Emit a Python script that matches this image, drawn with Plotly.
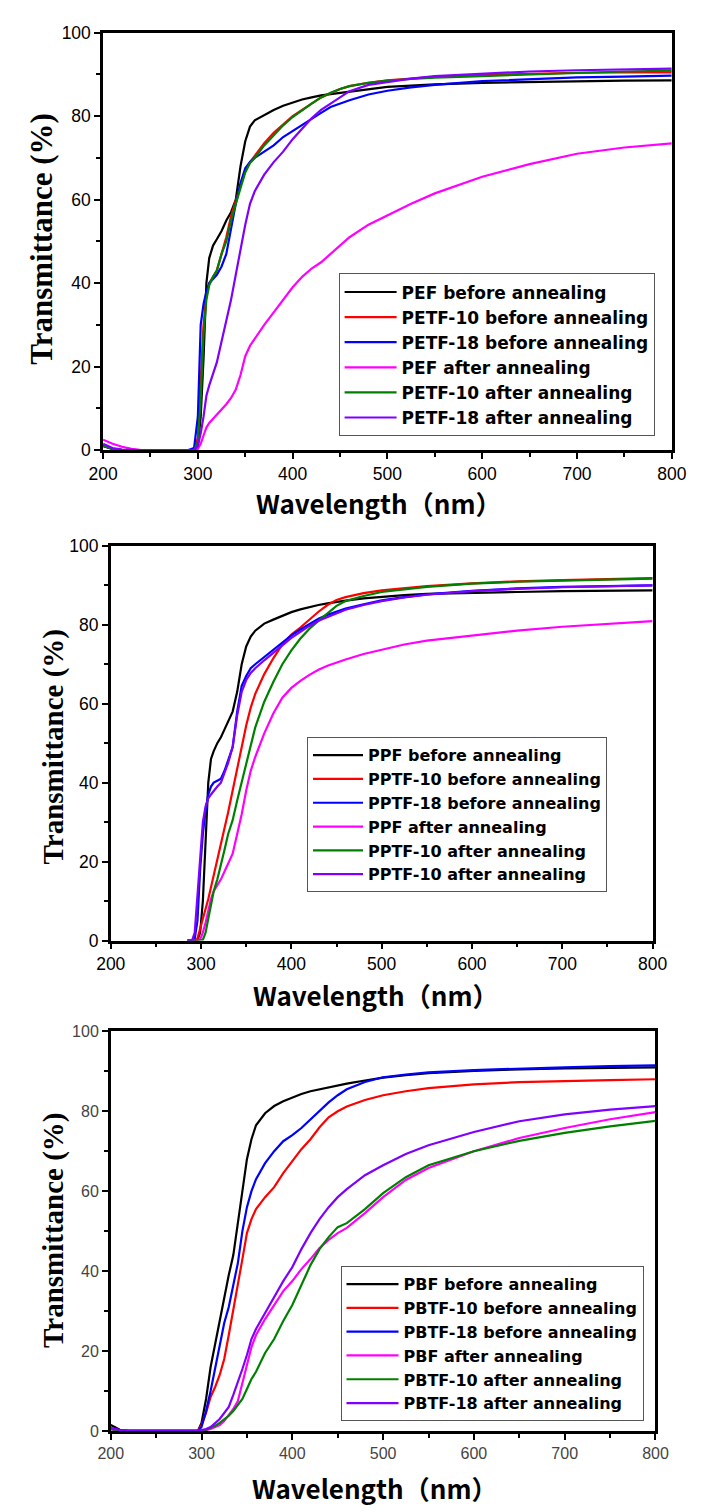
import plotly.graph_objects as go

# ---------------- Panel 1 (PEF / PETF) ----------------
WL1 = [200, 210, 220, 230, 240, 260, 280, 290, 296, 300, 303, 306, 309, 312, 316, 320, 325, 330, 335, 340,
       345, 350, 355, 360, 370, 380, 390, 400, 410, 420, 430, 440, 450, 460, 480, 500, 525, 550, 600, 650,
       700, 750, 800]
PEF_BEFORE = [1.0, 0.3, 0, 0, 0, 0, 0, 0, 0, 1, 8, 22, 40, 46, 49, 50.5, 52.5, 55, 57, 60,
              68, 74, 77.5, 79, 80.3, 81.5, 82.5, 83.3, 84, 84.5, 85, 85.3, 85.6, 85.9, 86.5, 87, 87.3, 87.6, 88, 88.2,
              88.4, 88.5, 88.6]
PETF10_BEFORE = [1.0, 0.3, 0, 0, 0, 0, 0, 0, 0, 3, 15, 30, 37, 40, 41.5, 43, 47, 51, 56, 60,
                 63.5, 67, 69, 70.5, 73.5, 76, 78, 80, 81.5, 83, 84.5, 85.5, 86.5, 87.2, 88, 88.6, 89, 89.4, 89.9, 90.2,
                 90.4, 90.5, 90.5]
PETF18_BEFORE = [1.0, 0.3, 0, 0, 0, 0, 0, 0, 0.5, 8, 30, 35, 38, 40, 41, 42, 44, 47, 53, 59,
                 64, 67.5, 69, 70, 71.5, 73, 75, 76.5, 78, 79.5, 80.8, 82.2, 83, 83.8, 85.2, 86.1, 86.9, 87.5, 88.4, 88.9,
                 89.3, 89.5, 89.7]
PEF_AFTER = [2.5, 1.5, 0.8, 0.3, 0, 0, 0, 0, 0, 0.3, 1.5, 3.5, 5.4, 6.5, 7.5, 8.3, 9.5, 11, 12.5, 14.5,
             18, 22.5, 25, 26.7, 30, 33, 36, 39, 41.5, 43.5, 45, 47, 49, 51, 54, 56.3, 59, 61.5, 65.5, 68.5,
             71, 72.5, 73.5]
PETF10_AFTER = [1.0, 0.3, 0, 0, 0, 0, 0, 0, 0, 2, 12, 28, 36, 39.5, 41.5, 43, 47, 50, 55, 59,
                63, 66.5, 68.8, 70, 73, 75.5, 77.8, 79.8, 81.5, 83, 84.5, 85.6, 86.5, 87.2, 88, 88.5, 88.9, 89.2, 89.6, 90,
                90.4, 90.7, 90.9]
PETF18_AFTER = [1.5, 0.5, 0.1, 0, 0, 0, 0, 0, 0, 1, 4, 8, 13, 15.5, 18, 21, 26, 31, 36, 42,
                48, 54, 59, 62, 66, 69, 71.5, 74.5, 77, 79.5, 81.5, 83, 84.5, 86, 87.5, 88.2, 89, 89.6, 90.2, 90.7,
                91, 91.2, 91.4]
LABELS1 = ["PEF before annealing", "PETF-10 before annealing", "PETF-18 before annealing",
           "PEF after annealing", "PETF-10 after annealing", "PETF-18 after annealing"]

# ---------------- Panel 2 (PPF / PPTF) ----------------
WL2 = [285, 290, 293, 296, 299, 302, 305, 308, 311, 314, 318, 322, 326, 330, 335, 340, 345, 350, 355, 360,
       370, 380, 390, 400, 410, 420, 430, 440, 450, 460, 480, 500, 525, 550, 600, 650, 700, 750, 800]
PPF_BEFORE = [0, 0, 0, 0, 2, 10, 25, 40, 46, 48, 50, 51.5, 53.5, 55.5, 58, 63, 70, 74.5, 77, 78.5,
              80.3, 81.3, 82.3, 83.2, 83.9, 84.5, 85, 85.4, 85.8, 86.1, 86.7, 87.1, 87.5, 87.8, 88.1, 88.3, 88.5, 88.6, 88.7]
PPTF10_BEFORE = [0, 0, 0, 0.5, 3, 5, 7.5, 10.5, 13.5, 16.5, 20, 24, 28.5, 32.5, 38, 43.5, 49, 54.5, 59, 62.5,
                 67.5, 71.5, 75, 77.5, 79.3, 81.3, 83.3, 85, 86.3, 87, 88, 88.7, 89.3, 89.8, 90.5, 91, 91.3, 91.6, 91.8]
PPTF18_BEFORE = [0, 0, 0.5, 5, 18, 27, 33, 37, 39, 40, 40.5, 41, 43, 45.5, 49, 58, 64.5, 67, 69, 70,
                 71.8, 73.5, 75.5, 77.3, 78.8, 80.2, 81.5, 82.5, 83.3, 84.1, 85.2, 86.2, 87, 87.7, 88.6, 89.2, 89.6, 89.8, 90]
PPF_AFTER = [0, 0, 0, 0, 0.3, 2, 4.5, 7.5, 10.5, 12.5, 14, 15.5, 17.5, 19.5, 22, 27, 32, 38, 43, 46.5,
             52.5, 57.5, 61.5, 64, 65.8, 67.3, 68.6, 69.6, 70.5, 71.2, 72.6, 73.7, 75, 76, 77.3, 78.5, 79.5, 80.2, 80.9]
PPTF10_AFTER = [0, 0, 0, 0, 0, 0.2, 2, 5.5, 9, 12.5, 15.5, 19, 23, 27, 30.5, 35.5, 40, 44.5, 49, 54,
                60.5, 65.5, 70, 73.5, 76.5, 79, 81, 83, 84.8, 86, 87.3, 88.3, 89, 89.6, 90.4, 90.9, 91.2, 91.5, 91.7]
PPTF10_AFTER_B = [0, 0, 2, 12, 22, 30, 34, 36, 37, 38, 39, 40, 42.5, 45, 49, 57, 63, 66, 67.8, 69,
                  71, 72.8, 74.8, 76.7, 78.3, 79.7, 81, 82, 83, 83.8, 85, 86, 86.9, 87.6, 88.5, 89.1, 89.5, 89.8, 90]
LABELS2 = ["PPF before annealing", "PPTF-10 before annealing", "PPTF-18 before annealing",
           "PPF after annealing", "PPTF-10 after annealing", "PPTF-10 after annealing"]

# ---------------- Panel 3 (PBF / PBTF) ----------------
WL3 = [200, 205, 210, 220, 240, 260, 280, 290, 296, 300, 305, 310, 315, 320, 325, 330, 335, 340, 345, 350,
       355, 360, 370, 380, 390, 400, 410, 420, 430, 440, 450, 460, 480, 500, 525, 550, 600, 650, 700, 750, 800]
PBF_BEFORE = [1.5, 0.8, 0.3, 0, 0, 0, 0, 0, 0, 2, 8, 16, 22, 28, 34, 39, 44, 52, 60, 68,
              73, 76.5, 79.5, 81.3, 82.5, 83.5, 84.3, 85, 85.5, 86, 86.5, 86.9, 87.7, 88.4, 89, 89.5, 90.1, 90.5, 90.7, 90.9, 91]
PBTF10_BEFORE = [0.5, 0.3, 0.1, 0, 0, 0, 0, 0, 0, 1.5, 4.5, 8.5, 11, 14, 18, 24, 30, 36, 43, 49.5,
                 53, 55.5, 58.5, 61, 64.5, 67.5, 70.5, 73, 76, 78.5, 80, 81.2, 82.8, 84, 85, 85.8, 86.7, 87.3, 87.6, 87.8, 88]
PBTF18_BEFORE = [0.5, 0.3, 0.1, 0, 0, 0, 0, 0, 0, 1, 5, 10, 16, 21, 27, 31, 37, 42, 50, 56,
                 60, 63, 67, 70, 72.5, 74, 75.8, 78, 80.2, 82.2, 84, 85.5, 87.3, 88.5, 89.2, 89.7, 90.3, 90.7, 91, 91.3, 91.5]
PBF_AFTER = [0.5, 0.3, 0.1, 0, 0, 0, 0, 0, 0, 0, 0.2, 0.5, 1, 1.5, 2.5, 4, 5.5, 7.5, 12, 17,
             21, 24, 28, 31.5, 35, 37.5, 40.5, 43, 45.8, 47.8, 49.5, 50.8, 54.5, 58.5, 62.8, 65.8, 70, 73.3, 75.8, 78, 79.8]
PBTF10_AFTER = [0.5, 0.3, 0.1, 0, 0, 0, 0, 0, 0, 0, 0.3, 0.8, 1.3, 2, 2.8, 3.8, 5, 6.5, 8, 10.5,
                13, 14.8, 19.5, 23, 27.5, 31.5, 36.5, 41.5, 45.5, 48.5, 51, 52, 55.5, 59.5, 63.5, 66.5, 70, 72.6, 74.6, 76.2, 77.6]
PBTF18_AFTER = [0.8, 0.4, 0.2, 0, 0, 0, 0, 0, 0, 0.2, 0.5, 1, 2, 3, 4.5, 6, 9, 12, 15.5, 19,
                23, 25.5, 29.5, 33.5, 37.5, 41, 45.5, 49.5, 53, 56, 58.5, 60.5, 64, 66.5, 69.3, 71.5, 74.8, 77.5, 79.2, 80.4, 81.3]
LABELS3 = ["PBF before annealing", "PBTF-10 before annealing", "PBTF-18 before annealing",
           "PBF after annealing", "PBTF-10 after annealing", "PBTF-18 after annealing"]

COLORS = ["#000000", "#FF0000", "#0000FF", "#FF00FF", "#008000", "#8000FF"]

X_TICKS = [200, 300, 400, 500, 600, 700, 800]
Y_TICKS = [0, 20, 40, 60, 80, 100]

W, H = 704, 1512

fig = go.Figure()

panels = [
    (WL1, [PEF_BEFORE, PETF10_BEFORE, PETF18_BEFORE, PEF_AFTER, PETF10_AFTER, PETF18_AFTER], LABELS1, "x", "y", "legend"),
    (WL2, [PPF_BEFORE, PPTF10_BEFORE, PPTF18_BEFORE, PPF_AFTER, PPTF10_AFTER, PPTF10_AFTER_B], LABELS2, "x2", "y2", "legend2"),
    (WL3, [PBF_BEFORE, PBTF10_BEFORE, PBTF18_BEFORE, PBF_AFTER, PBTF10_AFTER, PBTF18_AFTER], LABELS3, "x3", "y3", "legend3"),
]
for wl, series, labels, xa, ya, lg in panels:
    for vals, name, col in zip(series, labels, COLORS):
        fig.add_trace(go.Scatter(x=wl, y=vals, mode="lines", name=name, xaxis=xa, yaxis=ya,
                                 legend=lg, line=dict(color=col, width=2.2)))

# pixel geometry of each panel: (left, right, top, bottom)
geom = [(92, 686, 23, 446), (100, 666, 543, 943), (100, 669, 1035, 1440)]

def axis_common(tickfont):
    return dict(showline=True, mirror=True, linecolor="black", linewidth=2.5, ticks="outside",
                ticklen=6, tickwidth=2, tickcolor="black", showgrid=False, zeroline=False,
                tickfont=tickfont,
                minor=dict(ticks="outside", ticklen=4, tickwidth=2, tickcolor="black", showgrid=False))

tf12 = dict(family="Liberation Sans, Arial", size=17.5, color="black")
tf3 = dict(family="Liberation Sans, Arial", size=16, color="#444444")

layout = dict(width=W, height=H, margin=dict(l=0, r=0, t=0, b=0), paper_bgcolor="white",
              plot_bgcolor="white", showlegend=True)
names = [("xaxis", "yaxis"), ("xaxis2", "yaxis2"), ("xaxis3", "yaxis3")]
anchors = [("y", "x"), ("y2", "x2"), ("y3", "x3")]
for i, ((l, r, t, b), (xn, yn), (xanc, yanc)) in enumerate(zip(geom, names, anchors)):
    tf = tf3 if i == 2 else tf12
    xa = axis_common(tf)
    xa.update(domain=[l / W, r / W], range=[200, 800], tickvals=X_TICKS, anchor=xanc)
    xa["minor"]["dtick"] = 50
    xa["minor"]["tick0"] = 250
    ya = axis_common(tf)
    ya.update(domain=[1 - b / H, 1 - t / H], range=[0, 100], tickvals=Y_TICKS, anchor=yanc)
    ya["minor"]["dtick"] = 10
    ya["minor"]["tick0"] = 10
    layout[xn] = xa
    layout[yn] = ya

legpos = [(338, 267, 17, 52), (305, 737, 16, 50), (340, 1273, 16, 52)]
for key, (lx, ly, fs, iw) in zip(["legend", "legend2", "legend3"], legpos):
    layout[key] = dict(x=lx / W, y=1 - ly / H, xanchor="left", yanchor="top", xref="paper", yref="paper",
                       bgcolor="white", bordercolor="#555555", borderwidth=1,
                       font=dict(family="DejaVu Sans", size=fs, color="black", weight="bold"),
                       tracegroupgap=0, itemwidth=iw)

fig.update_layout(**layout)

xt_font = dict(family="Noto Sans CJK SC", size=26, color="black", weight="bold")
yt_font = dict(family="Liberation Serif, Times New Roman", color="black", weight="bold")
xtitles = [(380, 499), (377, 998), (376, 1497)]
ytitles = [(28, 232, 31), (40, 747, 29), (40, 1237, 29)]
for (cx, cy) in xtitles:
    fig.add_annotation(text="Wavelength（nm）", x=cx / W, y=1 - cy / H, xref="paper", yref="paper",
                       showarrow=False, font=xt_font, xanchor="center", yanchor="middle")
for (cx, cy, fs) in ytitles:
    fig.add_annotation(text="Transmittance (%)", x=cx / W, y=1 - cy / H, xref="paper", yref="paper",
                       showarrow=False, textangle=-90, font=dict(size=fs, **yt_font),
                       xanchor="center", yanchor="middle")

fig.write_html("out.html")
